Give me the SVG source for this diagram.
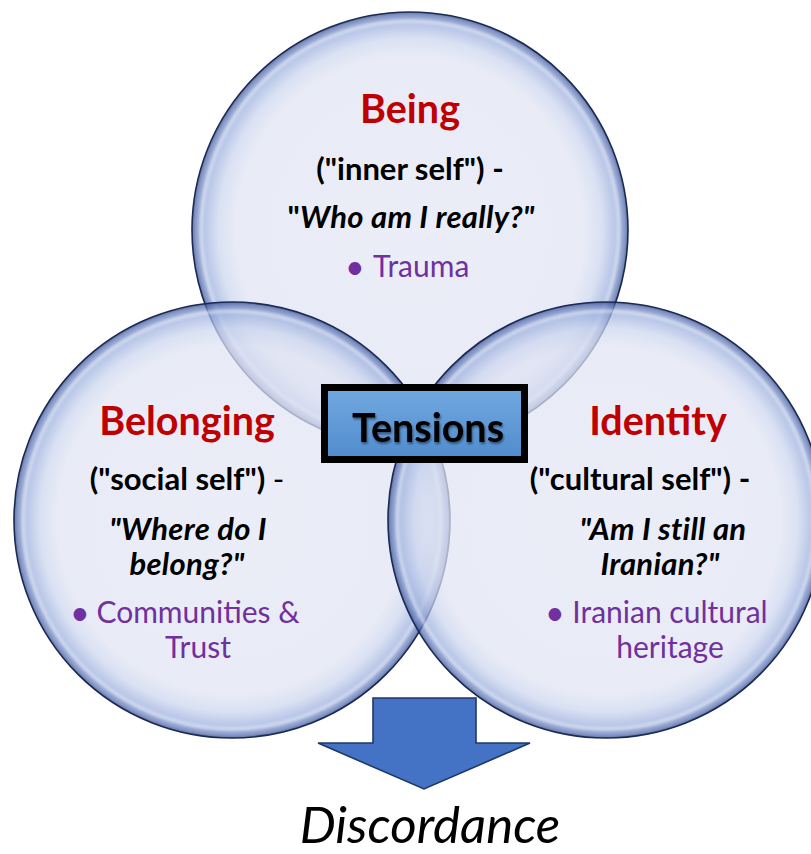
<svg xmlns="http://www.w3.org/2000/svg" width="811" height="854" viewBox="0 0 811 854">
  <defs>
    <radialGradient id="glass" cx="50%" cy="50%" r="50%">
      <stop offset="0" stop-color="#e3e7f4"/>
      <stop offset="0.8" stop-color="#e0e4f3"/>
      <stop offset="0.88" stop-color="#cbd5ee"/>
      <stop offset="0.95" stop-color="#98acdc"/>
      <stop offset="0.985" stop-color="#5a73b5"/>
      <stop offset="1" stop-color="#2d3f78"/>
    </radialGradient>
    <linearGradient id="boxFill" x1="0" y1="0" x2="0" y2="1">
      <stop offset="0" stop-color="#72a9e0"/>
      <stop offset="1" stop-color="#4f8bcd"/>
    </linearGradient>
    <filter id="soft" x="-10%" y="-10%" width="120%" height="120%">
      <feGaussianBlur stdDeviation="1.6"/>
    </filter>
    <filter id="tshadow" x="-10%" y="-20%" width="130%" height="150%">
      <feGaussianBlur in="SourceAlpha" stdDeviation="1.2"/>
      <feOffset dx="1" dy="1.5" result="b"/>
      <feComponentTransfer><feFuncA type="linear" slope="0.45"/></feComponentTransfer>
      <feMerge><feMergeNode/><feMergeNode in="SourceGraphic"/></feMerge>
    </filter>
  </defs>
  <style>
    .bubble { fill: url(#glass); fill-opacity: 0.72; stroke: #1b2a55; stroke-width: 1.6; }
    .hl { fill: none; stroke: #ffffff; stroke-width: 3; stroke-opacity: 0.55; }
    .title { font-family: Lato, "Liberation Sans", sans-serif; font-weight: bold; font-size: 39.5px; fill: #c00000; text-anchor: middle; }
    .sub { font-family: Lato, "Liberation Sans", sans-serif; font-weight: bold; font-size: 31px; fill: #000000; text-anchor: middle; }
    .q { font-family: Lato, "Liberation Sans", sans-serif; font-weight: bold; font-style: italic; font-size: 31px; letter-spacing: 0.3px; fill: #000000; text-anchor: middle; }
    .bul { font-family: Lato, "Liberation Sans", sans-serif; font-size: 30px; fill: #7030a0; }
    .dot { font-family: Lato, "Liberation Sans", sans-serif; font-size: 34px; fill: #7030a0; }
    .mid { text-anchor: middle; }
    .reg { font-weight: normal; }
    .up { font-style: normal; }
  </style>
  <rect x="0" y="0" width="811" height="854" fill="#ffffff"/>

  <g id="being">
    <circle class="bubble" cx="410" cy="230" r="218"/>
    <circle class="hl" cx="410" cy="230" r="209" filter="url(#soft)"/>
  </g>
  <g id="belonging">
    <circle class="bubble" cx="232" cy="520" r="218"/>
    <circle class="hl" cx="232" cy="520" r="209" filter="url(#soft)"/>
  </g>
  <g id="identity">
    <circle class="bubble" cx="606" cy="520" r="218"/>
    <circle class="hl" cx="606" cy="520" r="209" filter="url(#soft)"/>
  </g>

  <g id="being-text">
    <text class="title" x="410" y="123">Being</text>
    <text class="sub" x="410" y="180">("inner self") -</text>
    <text class="q" x="411" y="228"><tspan class="up">"</tspan>Who am I really?"</text>
    <text class="dot" x="345" y="279">•</text>
    <text class="bul" x="373" y="277">Trauma</text>
  </g>
  <g id="belonging-text">
    <text class="title" x="187" y="435">Belonging</text>
    <text class="sub" x="187" y="490">("social self") <tspan class="reg">-</tspan></text>
    <text class="q" x="188" y="540">"Where do I</text>
    <text class="q" x="187" y="575">belong?"</text>
    <text class="dot" x="70" y="625">•</text>
    <text class="bul mid" x="198" y="623">Communities &amp;</text>
    <text class="bul mid" x="198" y="658">Trust</text>
  </g>
  <g id="identity-text">
    <text class="title" x="658" y="435">Identity</text>
    <text class="sub" x="640" y="490">("cultural self") -</text>
    <text class="q" x="663" y="540">"Am I still an</text>
    <text class="q" x="660" y="575">Iranian?"</text>
    <text class="dot" x="545" y="625">•</text>
    <text class="bul mid" x="670" y="623">Iranian cultural</text>
    <text class="bul mid" x="670" y="658">heritage</text>
  </g>

  <g id="tensions">
    <rect x="324.5" y="387.5" width="200" height="72" fill="url(#boxFill)" stroke="#000000" stroke-width="7"/>
    <text x="428" y="442" filter="url(#tshadow)" style="font-family: Lato, 'Liberation Sans', sans-serif; font-weight: bold; font-size: 39.5px; fill: #000000; text-anchor: middle;">Tensions</text>
  </g>

  <g id="connectors">
    <polygon points="373,698 476,698 476,743 530,743 424,789 318,743 373,743" fill="#4472c4" stroke="#1f3864" stroke-width="1.6" stroke-linejoin="miter"/>
  </g>

  <g id="discordance">
    <text x="430" y="843" style="font-family: Lato, 'Liberation Sans', sans-serif; font-style: italic; font-size: 51px; fill: #000000; text-anchor: middle;">Discordance</text>
  </g>
</svg>
